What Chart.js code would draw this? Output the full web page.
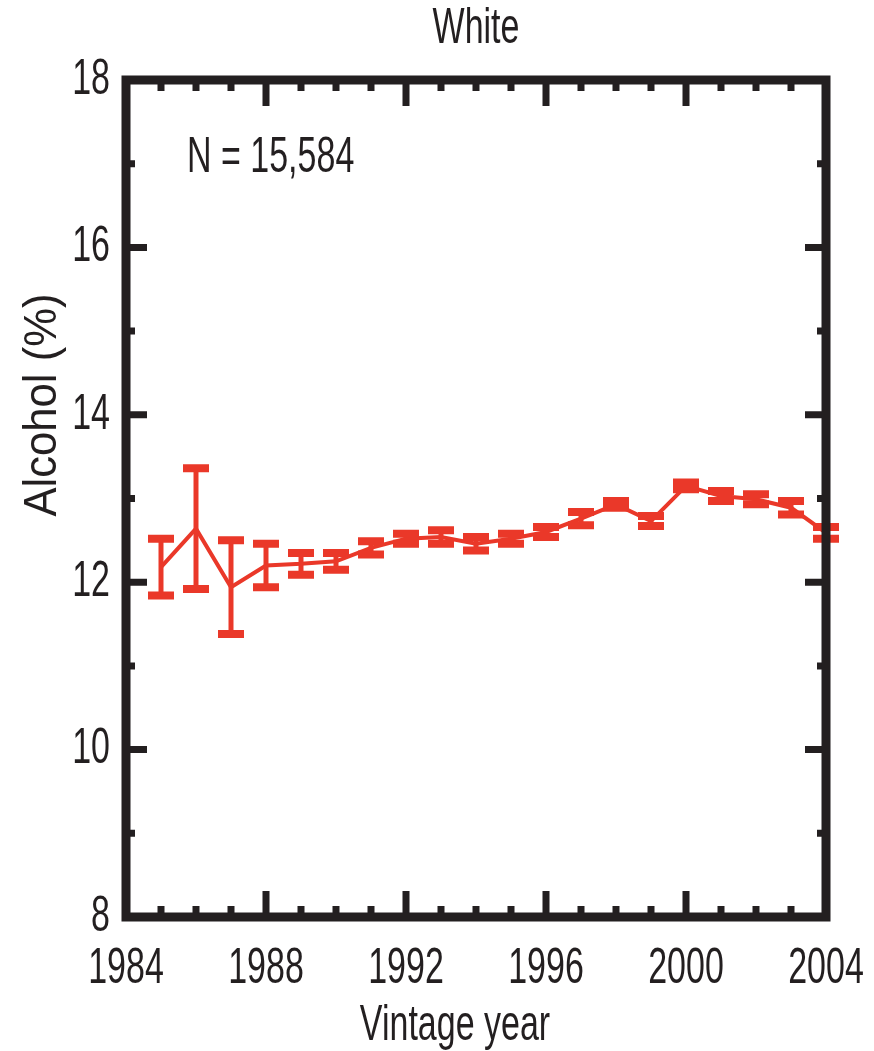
<!DOCTYPE html>
<html>
<head>
<meta charset="utf-8">
<script src="https://cdn.jsdelivr.net/npm/chart.js@4.4.1/dist/chart.umd.min.js"></script>
<style>
  html, body { margin: 0; padding: 0; background: #fff; }
  #wrap { width: 874px; height: 1051px; }
</style>
</head>
<body>
<div id="wrap"><canvas id="alcoholChart"></canvas></div>
<script>
const years = [1985, 1986, 1987, 1988, 1989, 1990, 1991, 1992, 1993, 1994,
               1995, 1996, 1997, 1998, 1999, 2000, 2001, 2002, 2003, 2004];
const alcohol = [12.18, 12.64, 11.94, 12.20, 12.22, 12.25, 12.41, 12.52, 12.54, 12.46,
                 12.52, 12.60, 12.76, 12.93, 12.73, 13.15, 13.03, 12.99, 12.89, 12.59];
const errors = [0.34, 0.72, 0.56, 0.26, 0.13, 0.10, 0.08, 0.06, 0.08, 0.08,
                0.06, 0.06, 0.08, 0.04, 0.06, 0.04, 0.06, 0.06, 0.08, 0.07];
const yTicks = [8, 10, 12, 14, 16, 18];
const xTicks = [1984, 1988, 1992, 1996, 2000, 2004];

const RED = '#EA3829';
const INK = '#231F20';
const FONT = "'Liberation Sans', Arial, sans-serif";
const SQUASH = 0.68; // the figure uses a condensed face

const ctx = document.getElementById('alcoholChart').getContext('2d');

// squeeze every piece of text horizontally around its anchor
const rawFill = ctx.fillText.bind(ctx);
const rawMeasure = ctx.measureText.bind(ctx);
ctx.fillText = function (text, x, y) {
    ctx.save();
    ctx.translate(x, y);
    ctx.scale(SQUASH, 1);
    rawFill(text, 0, 0);
    ctx.restore();
};
ctx.measureText = function (text) {
    const m = rawMeasure(text);
    return {
        width: m.width * SQUASH,
        actualBoundingBoxLeft: m.actualBoundingBoxLeft * SQUASH,
        actualBoundingBoxRight: m.actualBoundingBoxRight * SQUASH,
        actualBoundingBoxAscent: m.actualBoundingBoxAscent,
        actualBoundingBoxDescent: m.actualBoundingBoxDescent
    };
};

// error bars, boxed frame with inward ticks, and the loose labels
const figurePlugin = {
    id: 'figurePlugin',
    afterDatasetsDraw(chart) {
        const c = chart.ctx;
        const xs = chart.scales.x, ys = chart.scales.y;
        c.save();
        c.strokeStyle = RED;
        years.forEach((yr, i) => {
            const px = xs.getPixelForValue(yr);
            const top = ys.getPixelForValue(alcohol[i] + errors[i]);
            const bot = ys.getPixelForValue(alcohol[i] - errors[i]);
            c.lineWidth = 5;
            c.beginPath();
            c.moveTo(px, top);
            c.lineTo(px, bot);
            c.stroke();
            c.lineWidth = 8;
            c.beginPath();
            c.moveTo(px - 13, top);
            c.lineTo(px + 13, top);
            c.moveTo(px - 13, bot);
            c.lineTo(px + 13, bot);
            c.stroke();
        });
        c.restore();
    },
    afterDraw(chart) {
        const c = chart.ctx;
        const a = chart.chartArea;
        const xs = chart.scales.x, ys = chart.scales.y;
        c.save();
        c.strokeStyle = INK;
        c.fillStyle = INK;

        c.lineWidth = 7;
        c.beginPath();
        for (let yr = xs.min + 1; yr < xs.max; yr++) {
            const px = xs.getPixelForValue(yr);
            const len = yr % 4 === 0 ? 26 : 11;
            c.moveTo(px, a.bottom); c.lineTo(px, a.bottom - len);
            c.moveTo(px, a.top); c.lineTo(px, a.top + len);
        }
        for (let v = ys.min + 1; v < ys.max; v++) {
            const py = ys.getPixelForValue(v);
            const len = v % 2 === 0 ? 21 : 9;
            c.moveTo(a.left, py); c.lineTo(a.left + len, py);
            c.moveTo(a.right, py); c.lineTo(a.right - len, py);
        }
        c.stroke();

        c.lineWidth = 9;
        c.strokeRect(a.left, a.top, a.right - a.left, a.bottom - a.top);

        c.font = '50px ' + FONT;
        c.textAlign = 'left';
        c.textBaseline = 'alphabetic';
        c.fillText('N = 15,584', 187, 172);

        c.textAlign = 'center';
        c.fillText('Vintage year', 455, 1040);

        // y title: 46px, stretched to the length it has in the figure
        c.font = '46px ' + FONT;
        const w = c.measureText('Alcohol (%)').width;
        c.translate(56, 405);
        c.rotate(-Math.PI / 2);
        c.scale(223 / w, 1);
        c.fillText('Alcohol (%)', 0, 0);
        c.restore();
    }
};

const alcoholChart = new Chart(ctx, {
    type: 'line',
    data: {
        datasets: [{
            label: 'White',
            data: years.map((yr, i) => ({ x: yr, y: alcohol[i] })),
            borderColor: RED,
            borderWidth: 4,
            pointRadius: 0,
            tension: 0
        }]
    },
    options: {
        responsive: true,
        maintainAspectRatio: false,
        animation: false,
        layout: {
            padding: { left: 0, right: 48, top: 0, bottom: 0 }
        },
        plugins: {
            legend: { display: false },
            tooltip: { enabled: false },
            title: {
                display: true,
                text: 'White',
                fullSize: false,
                color: INK,
                font: { family: FONT, size: 50, weight: 'normal', lineHeight: 1 },
                padding: { top: 4, bottom: 26 }
            }
        },
        scales: {
            x: {
                type: 'linear',
                min: 1984,
                max: 2004,
                afterFit: (scale) => {
                    scale.height = 134;
                    scale.paddingLeft = 0;
                    scale.paddingRight = 0;
                },
                afterBuildTicks: (scale) => { scale.ticks = xTicks.map(v => ({ value: v })); },
                ticks: {
                    color: INK,
                    padding: 22,
                    maxRotation: 0,
                    font: { family: FONT, size: 50 },
                    callback: (v) => String(v)
                },
                grid: { display: false, drawTicks: false },
                border: { display: false }
            },
            y: {
                min: 8,
                max: 18,
                afterFit: (scale) => {
                    scale.width = 126;
                    scale.paddingTop = 0;
                    scale.paddingBottom = 0;
                },
                afterBuildTicks: (scale) => { scale.ticks = yTicks.map(v => ({ value: v })); },
                ticks: {
                    color: INK,
                    padding: 16,
                    font: { family: FONT, size: 50 },
                    callback: (v) => String(v)
                },
                grid: { display: false, drawTicks: false },
                border: { display: false }
            }
        }
    },
    plugins: [figurePlugin]
});
</script>
</body>
</html>
